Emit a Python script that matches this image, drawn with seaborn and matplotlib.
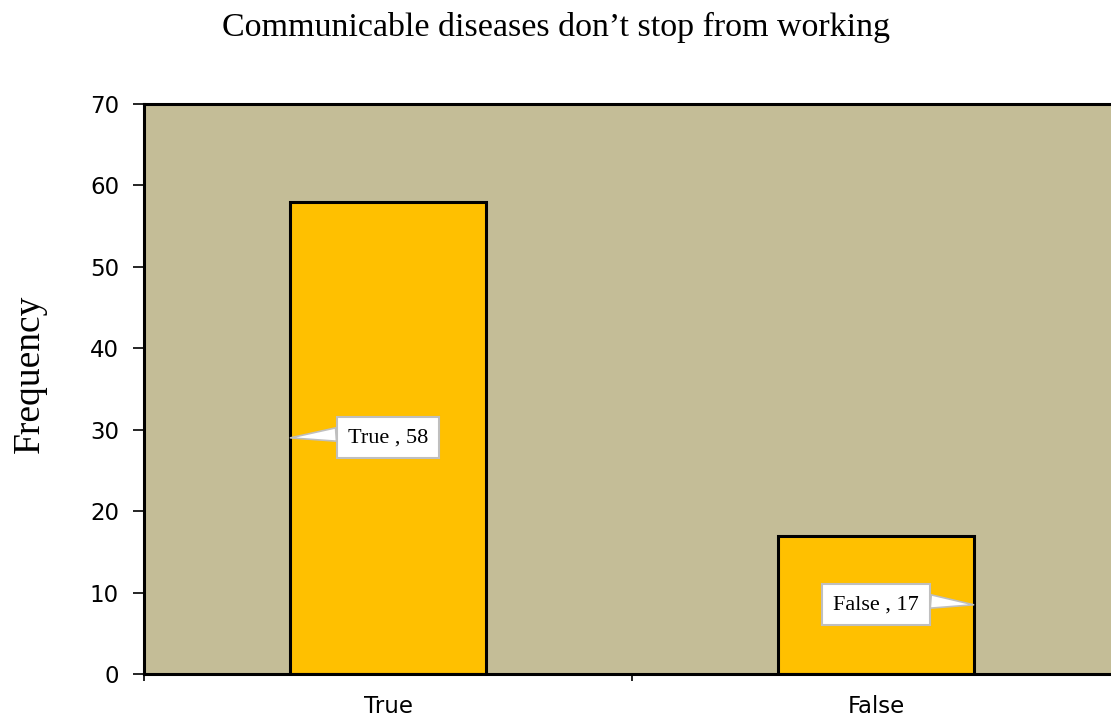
import matplotlib
matplotlib.use("Agg")
import matplotlib.pyplot as plt
import seaborn as sns
import pandas as pd

categories = ["True", "False"]
frequencies = [58, 17]
title = "Communicable diseases don\u2019t stop from working"
y_ticks = [0, 10, 20, 30, 40, 50, 60, 70]

sns.set_theme(style="white")
plt.rcParams["font.family"] = ["DejaVu Sans"]
plt.rcParams["text.color"] = "black"
plt.rcParams["xtick.color"] = "black"
plt.rcParams["ytick.color"] = "black"
plt.rcParams["axes.labelcolor"] = "black"

df = pd.DataFrame({"answer": categories, "freq": frequencies})

fig = plt.figure(figsize=(11.11, 7.19), dpi=100)
ax = fig.add_axes([144 / 1111, 45 / 719, 976 / 1111, 570 / 719])
ax.set_facecolor("#C4BD97")

sns.barplot(data=df, x="answer", y="freq", order=categories, color="#FFC000",
            saturation=1, width=0.4, edgecolor="black", linewidth=2.2, ax=ax)

ax.set_xlim(-0.5, 1.5)
ax.set_ylim(0, 70)
ax.set_yticks(y_ticks)
ax.set_xticks([0, 1])
ax.set_xticklabels(categories)
ax.set_xticks([-0.5, 0.5, 1.5], minor=True)
ax.tick_params(axis="x", which="major", length=0, labelsize=16.5, pad=15)
ax.tick_params(axis="x", which="minor", length=5, width=1.2, color="black",
               direction="out", bottom=True)
ax.tick_params(axis="y", length=8, width=1.2, color="black", direction="out",
               left=True, labelsize=16.5, pad=10)
for s in ["top", "left", "bottom"]:
    ax.spines[s].set_color("black")
    ax.spines[s].set_linewidth(2.2)
ax.spines["right"].set_visible(False)
ax.set_xlabel("")
ax.set_ylabel("Frequency", family="Liberation Serif", fontsize=27)
ax.yaxis.set_label_coords(-0.1, 0.526)

fig.text(0.5, 1 - 27 / 719, title, ha="center", va="center",
         family="Liberation Serif", fontsize=24.5)

# Callout labels centred on each bar, pointing at one of its side edges
for patch, cat, val, side in zip(ax.patches, categories, frequencies, [-1, 1]):
    centre_x = patch.get_x() + patch.get_width() / 2
    edge_x = patch.get_x() if side < 0 else patch.get_x() + patch.get_width()
    anchor_y = val / 2
    ax.annotate(f"{cat} , {val}", xy=(edge_x, anchor_y), xytext=(centre_x, anchor_y),
                ha="center", va="center", family="Liberation Serif", fontsize=16,
                bbox=dict(boxstyle="square,pad=0.5", fc="white", ec="#BFBFBF", lw=1.5),
                arrowprops=dict(arrowstyle="wedge,tail_width=0.6", fc="white",
                                ec="#BFBFBF", lw=1.2, shrinkA=0, shrinkB=0,
                                relpos=(0 if side < 0 else 1, 0.72)))

fig.savefig("out.png", dpi=100)
